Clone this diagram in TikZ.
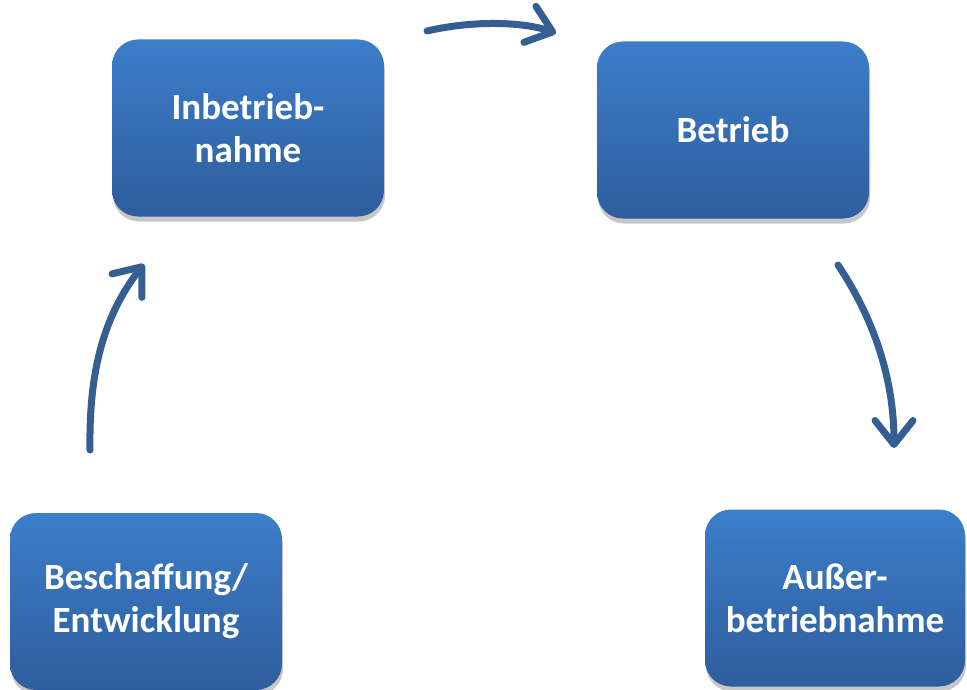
\documentclass[tikz,border=0pt]{standalone}
\usepackage{fontspec}
\setmainfont{Carlito}
\usetikzlibrary{arrows.meta,shadows}
\definecolor{boxtop}{RGB}{60,126,202}
\definecolor{boxbot}{RGB}{46,93,157}
\definecolor{arrowc}{RGB}{53,95,147}
\tikzset{
  phase/.style={rounded corners=26pt, minimum width=272pt, minimum height=177pt,
    top color=boxtop, bottom color=boxbot, draw=none,
    text=white, font=\bfseries\fontsize{37}{43}\selectfont, align=center, inner sep=0pt,
    drop shadow={shadow xshift=1pt, shadow yshift=-5pt, opacity=0.22, fill=black}},
  flow/.style={draw=arrowc, line width=7pt, line cap=round,
    -{Straight Barb[length=24pt, width=38pt, line cap=round, line join=round]}}
}
\begin{document}
\begin{tikzpicture}[x=1pt,y=-1pt]
\useasboundingbox (0,0) rectangle (967,690);
\node[phase] (inb) at (248,128) {Inbetrieb-\\nahme};
\node[phase] (bet) at (733,130) {Betrieb};
\node[phase] (bes) at (146,601.5) {Beschaffung/\\Entwicklung};
\node[phase, minimum width=260pt] (aus) at (835,598) {Außer-\\betriebnahme};
\coordinate (a1s) at (427,31);
\coordinate (a1e) at (556,33);
\coordinate (a2s) at (838,265);
\coordinate (a2e) at (894,448);
\coordinate (a3s) at (90,450);
\coordinate (a3e) at (144,264);
\draw[flow] (a1s) .. controls (470,21) and (520,21) .. (a1e);
\draw[flow] (a2s) .. controls (868,310) and (894,370) .. (a2e);
\draw[flow] (a3s) .. controls (89,380) and (100,320) .. (a3e);
\end{tikzpicture}
\end{document}
